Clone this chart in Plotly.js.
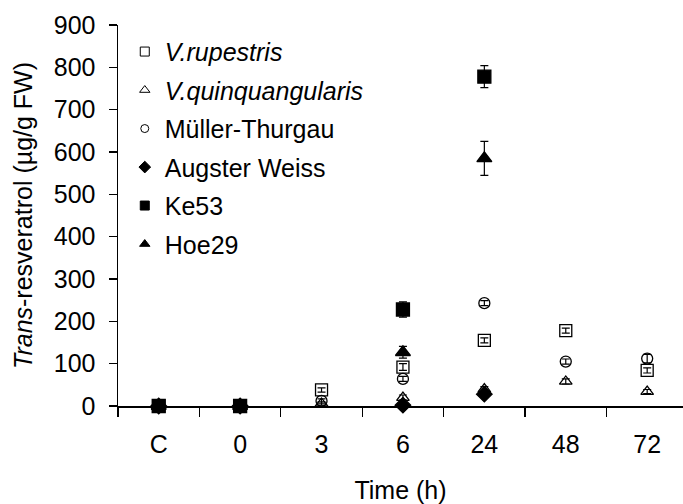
<!DOCTYPE html>
<html>
<head>
<meta charset="utf-8">
<script src="https://cdn.plot.ly/plotly-3.0.1.min.js"></script>
<style>html,body{margin:0;padding:0;background:#fff;}#chart{width:683px;height:504px;}</style>
</head>
<body>
<div id="chart"></div>
<script>
const categories = ["C", "0", "3", "6", "24", "48", "72"];
const seriesNames = ["<i>V.rupestris</i>", "<i>V.quinquangularis</i>", "Müller-Thurgau", "Augster Weiss", "Ke53", "Hoe29"];
const vRupestris = [0, 0, 38, 92, 155, 178, 84];
const vRupestrisErr = [0, 0, 5, 8, 6, 6, 6];
const vQuinq = [0, 0, 6, 20, 40, 58, 34];
const vQuinqErr = [0, 0, 4, 6, 6, 6, 5];
const muller = [0, 0, 12, 64, 243, 105, 112];
const mullerErr = [0, 0, 5, 6, 6, 6, 10];
const augster = [0, 0, null, 2, 28, null, null];
const augsterErr = [0, 0, 0, 2, 6, 0, 0];
const ke53 = [0, 0, null, 228, 778, null, null];
const ke53Err = [0, 0, 0, 18, 26, 0, 0];
const hoe29 = [0, 0, null, 127, 585, null, null];
const hoe29Err = [0, 0, 0, 14, 40, 0, 0];

const values = [vRupestris, vQuinq, muller, augster, ke53, hoe29];
const errors = [vRupestrisErr, vQuinqErr, mullerErr, augsterErr, ke53Err, hoe29Err];
const symbols = ["square-open", "triangle-up-open", "circle-open", "diamond", "square", "triangle-up"];
const sizes = [12, 11, 11, 12, 13, 13];
const legendSizes = [9, 9, 8, 9, 9, 9];

const traces = [];
values.forEach((v, i) => {
  traces.push({
    type: "scatter", mode: "markers", x: categories, y: v,
    showlegend: false, cliponaxis: false,
    marker: {symbol: symbols[i], size: sizes[i], color: "#000", line: {color: "#000", width: 1.3}},
    error_y: {type: "data", array: errors[i], visible: true, color: "#000", thickness: 1.2, width: 4}
  });
});
values.forEach((v, i) => {
  traces.push({
    type: "scatter", mode: "markers", x: [null], y: [null], name: seriesNames[i],
    legendgroup: "g" + i, showlegend: true,
    marker: {symbol: symbols[i], size: legendSizes[i], color: "#000", line: {color: "#000", width: 1}}
  });
});

const layout = {
  width: 683, height: 504,
  margin: {l: 118, r: 0, t: 25, b: 98},
  paper_bgcolor: "#fff", plot_bgcolor: "#fff",
  font: {family: "Liberation Sans, Arial, sans-serif", size: 25, color: "#000"},
  showlegend: true,
  legend: {x: 0.012, y: 0.99, xanchor: "left", yanchor: "top", bgcolor: "rgba(0,0,0,0)",
    font: {size: 25, color: "#000"}, traceorder: "grouped", tracegroupgap: 3},
  xaxis: {
    type: "category", categoryorder: "array", categoryarray: categories,
    range: [-0.5, 6.44], tickson: "boundaries", ticks: "outside", ticklen: 9, tickwidth: 1.2,
    tickcolor: "#000", showline: true, linecolor: "#000", linewidth: 1.5, showgrid: false, zeroline: false,
    tickfont: {size: 25}, ticklabelstandoff: 15, title: {text: "Time (h)", font: {size: 25}, standoff: 28}
  },
  yaxis: {
    range: [0, 900], tickvals: [0, 100, 200, 300, 400, 500, 600, 700, 800, 900],
    ticks: "outside", ticklen: 8, tickwidth: 1.2, tickcolor: "#000",
    showline: true, linecolor: "#000", linewidth: 1.5, showgrid: false, zeroline: false,
    tickfont: {size: 25}, ticklabelstandoff: 8,
    title: {text: "<i>Trans</i>-resveratrol (µg/g FW)", font: {size: 25}, standoff: 14}
  }
};

Plotly.newPlot("chart", traces, layout, {staticPlot: true, displayModeBar: false});
</script>
</body>
</html>
